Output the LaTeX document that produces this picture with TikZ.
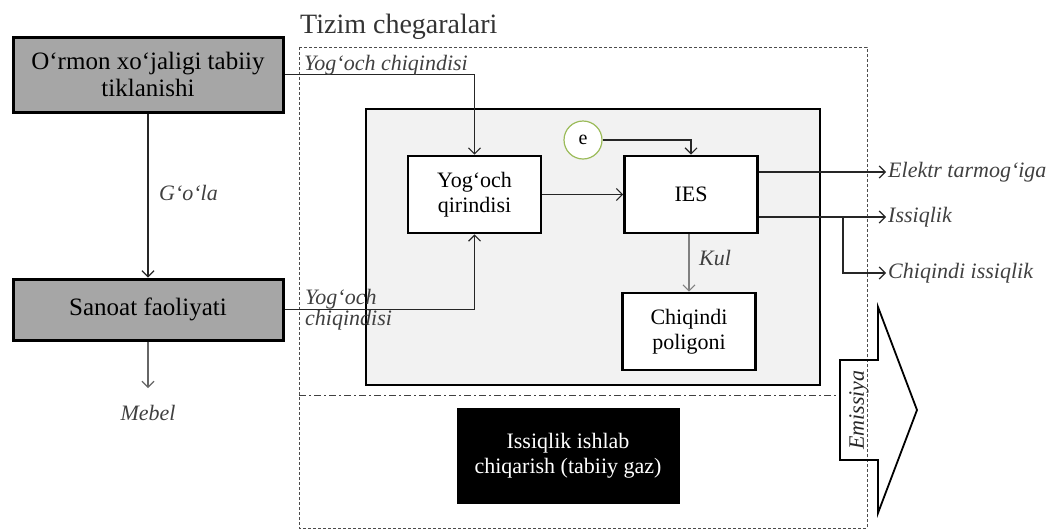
\documentclass[tikz,border=0pt]{standalone}
\usepackage{fontspec}
\setmainfont{Liberation Serif}
\usepackage{xcolor}
\usepackage{tikz}
\usetikzlibrary{arrows.meta,positioning,calc}
\definecolor{boxgray}{RGB}{166,166,166}
\definecolor{plantgray}{RGB}{242,242,242}
\definecolor{softgreen}{RGB}{155,187,89}
\definecolor{inkgray}{RGB}{64,64,64}

\begin{document}
\begin{tikzpicture}[
  x=1pt,y=-1pt,
  >={Straight Barb[length=6pt,width=12pt]},
  box/.style={draw,line width=2.6pt,fill=white,minimum width=133pt,minimum height=77pt,align=center,inner sep=2pt,font=\fontsize{22}{25}\selectfont},
  srcbox/.style={box,fill=boxgray,line width=3pt,minimum width=270pt,font=\fontsize{25}{27}\selectfont},
  lbl/.style={font=\fontsize{22}{22}\selectfont\itshape,text=inkgray,inner sep=1pt},
  outlbl/.style={lbl,anchor=west,inner sep=2pt},
  arrow/.style={->,draw=black!85,line width=1.2pt},
  bound/.style={dash pattern=on 3pt off 2pt,draw=black!70,line width=1pt}
]
\useasboundingbox (0,0) rectangle (1057,531);
\node[anchor=base west,inner sep=0pt,font=\fontsize{28}{30}\selectfont,text=black!80] (title) at (300,33) {Tizim chegaralari};
\draw[bound] (299,47) rectangle (867,528);
\draw[dash pattern=on 7pt off 3pt on 2pt off 3pt,draw=black!75,line width=1pt] (299,395) -- (840,395);
\node[draw,line width=2.6pt,fill=plantgray,minimum width=454pt,minimum height=276pt] (plant) at (593,247) {};
\node[srcbox,minimum height=75pt] (forest) at (148,74.5) {O‘rmon xo‘jaligi tabiiy\\tiklanishi};
\node[srcbox,minimum height=61pt] (ind) at (148,309.5) {Sanoat faoliyati};
\node[box] (chips) at (474.5,194.5) {Yog‘och\\qirindisi};
\node[box] (ies) at (691,194.5) {IES};
\node[box] (land) at (689,331.5) {Chiqindi\\poligoni};
\node[circle,draw=softgreen,line width=1.2pt,fill=white,minimum size=38pt,inner sep=0pt,font=\fontsize{20}{20}\selectfont] (e) at (583,140) {e};
\node[box,fill=black,text=white,line width=1pt,minimum width=222pt,minimum height=95pt] (heat) at (568,455.5) {Issiqlik ishlab\\chiqarish (tabiiy gaz)};
\draw[line width=1.8pt,line join=miter] (840,360) -- (878,360) -- (878,307) -- (917,410) -- (878,513) -- (878,460) -- (840,460) -- cycle;
\node[lbl,rotate=90,text=black!85] (emis) at (859,410) {Emissiya};
\node[lbl] (mebel) at (148,413) {Mebel};
\node[lbl,anchor=west] (gola) at (158,193) {G‘o‘la};
\node[lbl,anchor=west] (kul) at (698,258) {Kul};
\node[outlbl] (grid) at (886,172) {Elektr tarmog‘iga};
\node[outlbl] (heatout) at (886,217) {Issiqlik};
\node[outlbl] (waste) at (886,273) {Chiqindi issiqlik};
\coordinate (split) at (843,217);
\draw[arrow] (forest.south) -- (ind.north);
\draw[arrow,draw=black!60,shorten >=16pt] (ind.south) -- (ind.south |- mebel.north);
\draw[arrow] (forest.east) -| (chips.north);
\draw[arrow] (ind.east) -| (chips.south);
\draw[arrow] (chips.east) -- (ies.west);
\draw[arrow] (e.east) -| (ies.north);
\draw[arrow,draw=black!50] (ies.south -| land.north) -- (land.north);
\draw[arrow] (ies.east |- grid.west) -- (grid.west);
\draw[arrow] (ies.east |- heatout.west) -- (heatout.west);
\draw[arrow] (split) |- (waste.west);
\node[lbl,anchor=base west] (topwaste) at (303,70) {Yog‘och chiqindisi};
\node[lbl,anchor=west,align=left,font=\fontsize{22}{21}\selectfont\itshape] (lowwaste) at (304,310) {Yog‘och\\chiqindisi};
\end{tikzpicture}
\end{document}
